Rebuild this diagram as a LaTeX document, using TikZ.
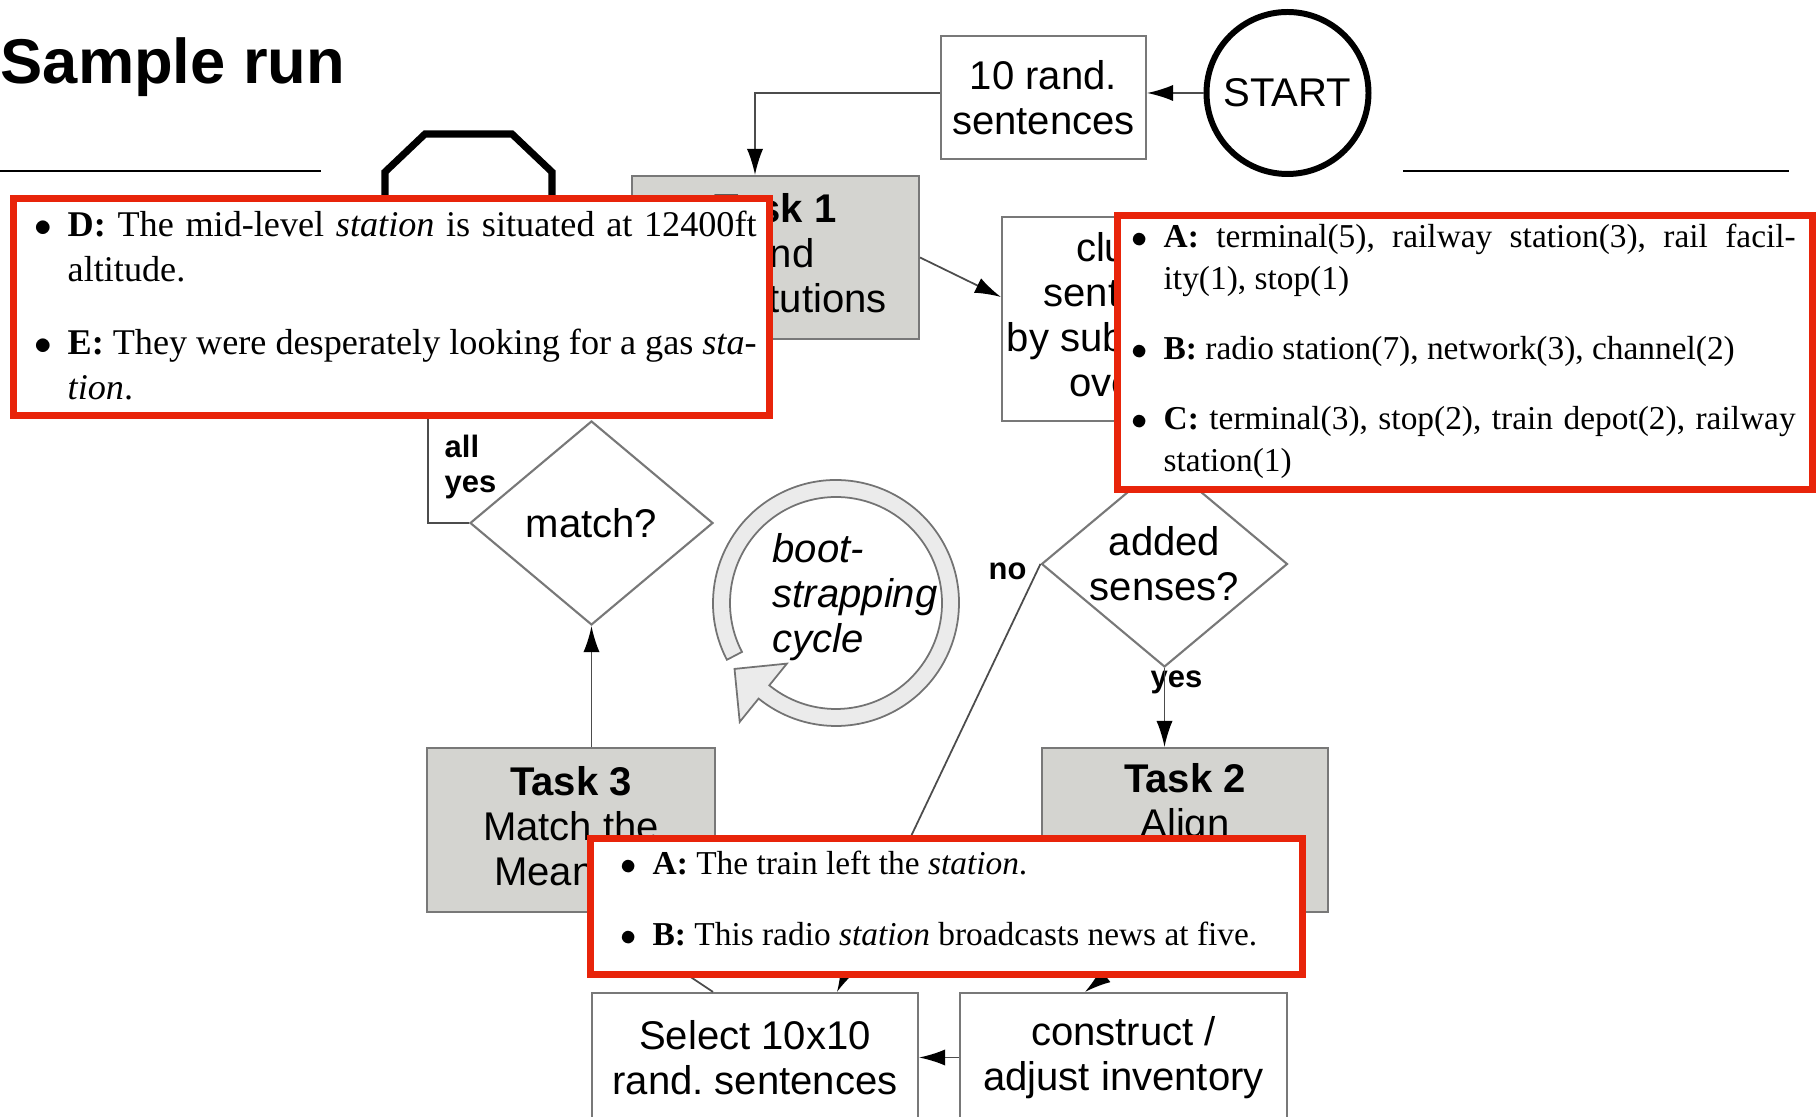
\documentclass[tikz,border=0pt]{standalone}
\usepackage{fontspec}
\setmainfont{Liberation Sans}
\newfontfamily\tms{Liberation Serif}
\usetikzlibrary{arrows.meta,shapes.geometric}
\frenchspacing
\definecolor{hlred}{RGB}{232,36,10}
\definecolor{taskgray}{RGB}{212,212,208}
\definecolor{edgegray}{RGB}{120,120,120}
\definecolor{ringgray}{RGB}{235,235,235}
\newcommand{\flowfont}{\fontsize{11.4pt}{12.8pt}\selectfont}
\newcommand{\bul}{\llap{$\bullet$\hspace{0.16cm}}}
\tikzset{
  box/.style={draw=edgegray, line width=0.6pt, fill=white, align=center, font=\flowfont, inner sep=0pt},
  task/.style={box, fill=taskgray},
  ask/.style={box, diamond, aspect=1.2},
  lbl/.style={font=\fontsize{8.8pt}{10.2pt}\selectfont\bfseries, anchor=base west, align=left, inner sep=0pt},
  conn/.style={draw=black!70, line width=0.5pt},
  callout/.style={draw=hlred, line width=2.1pt, fill=white},
  itemD/.style={anchor=base west, inner sep=0pt, text width=6.89cm, align=justify, font=\tms\fontsize{10.3pt}{12.8pt}\selectfont},
  itemA/.style={itemD, text width=6.32cm, font=\tms\fontsize{9.5pt}{11.8pt}\selectfont}
}
\begin{document}
\begin{tikzpicture}[>={Latex[length=7.4pt,width=4.6pt,color=black]}]
    \useasboundingbox (0,0) rectangle (18.18,11.17);
    \clip (0,0) rectangle (18.18,11.17);

    \node[anchor=base west, inner sep=0pt, font=\fontsize{18pt}{21pt}\selectfont\bfseries] (title) at (0,10.335) {Sample run};
    \draw[line width=0.8pt] (0,9.46) -- (3.21,9.46);
    \draw[line width=0.8pt] (14.03,9.46) -- (17.89,9.46);

    % stop sign, mostly under the callout
    \draw[line width=2pt] (4.25,9.83) -- (5.12,9.83) -- (5.52,9.45) -- (5.52,8.58) -- (5.12,8.18)
        -- (4.25,8.18) -- (3.85,8.58) -- (3.85,9.45) -- cycle;
    \coordinate (stop) at (4.28,8.18);

    \node[box, circle, draw=black, line width=1.7pt, minimum size=1.62cm] (start) at (12.875,10.24) {START};
    \node[box, minimum width=2.05cm, minimum height=1.23cm] (rnd) at (10.435,10.195) {10 rand.\\sentences};
    \node[task, minimum width=2.87cm, minimum height=1.63cm] (t1) at (7.755,8.595) {\textbf{Task 1}\\Find\\substitutions\vphantom{g}};
    \node[box, minimum width=2.66cm, minimum height=2.04cm] (clust) at (11.35,7.98) {cluster\\sentences\\by substitution\\overlap};
    \node[ask, minimum width=2.46cm, minimum height=2.06cm] (added) at (11.645,5.53) {added\\senses?};
    \node[ask, minimum width=2.43cm, minimum height=2.04cm] (match) at (5.915,5.94) {match?};
    \node[task, minimum width=2.86cm, minimum height=1.64cm] (t2) at (11.85,2.87) {\textbf{Task 2}\\Align\\\strut};
    \node[task, minimum width=2.88cm, minimum height=1.64cm] (t3) at (5.71,2.87) {\textbf{Task 3}\\Match the\\Meaning};
    \node[box, minimum width=3.26cm, minimum height=1.29cm] (sel) at (7.55,0.595) {Select 10x10\\rand. sentences};
    \node[box, minimum width=3.27cm, minimum height=1.29cm] (cons) at (11.235,0.595) {construct /\\adjust inventory};

    \node[lbl] (allyes) at (4.44,6.24) {all\\yes};
    \node[lbl] (no) at (9.88,5.37) {no};
    \node[lbl] (yes) at (11.50,4.29) {yes};

    \draw[conn,->] (start.west) -- (start.west -| rnd.east);
    \draw[conn,->] (rnd.west |- start.west) -| ([xshift=-0.205cm]t1.north);
    \draw[conn,->] (t1.east) -- ([yshift=0.22cm]clust.west);
    \draw[conn,->] (added.south) -- (added.south |- t2.north);
    \draw[conn,->] (added.west) -- ([xshift=0.82cm]sel.north);
    \draw[conn,->] (t2.south) -- ([xshift=-0.385cm]cons.north);
    \draw[conn,->] (cons.west) -- (sel.east);
    \draw[conn,->] ([xshift=-0.42cm]sel.north) -- ([xshift=0.24cm]t3.south);
    \draw[conn,->] (match.south |- t3.north) -- (match.south);
    \draw[conn,->] (match.west) -| (stop);

    % bootstrapping cycle
    \begin{scope}[shift={(8.36,5.14)}]
        \draw[draw=black!55, fill=ringgray, line width=0.5pt] (207.5:1.23) arc[start angle=207.5, end angle=-129, radius=1.23]
            -- (-129:1.53) -- (-147:1.21) -- (-129:0.78) -- (-129:1.06)
            arc[start angle=-129, end angle=207.5, radius=1.06] -- cycle;
    \end{scope}
    \node[font=\flowfont\itshape, align=left, anchor=west, inner sep=0pt] (cyc) at (7.72,5.20) {boot-\\strapping\\cycle};

    % example sentences and sense lists
    \draw[callout] (0.1375,9.1825) rectangle (7.6925,7.0175);
    \node[itemD] (itD) at (0.67,8.80) {\bul\textbf{D:} The mid-level \textit{station} is situated at 12400ft\linebreak altitude.};
    \node[itemD] (itE) at (0.67,7.62) {\bul\textbf{E:} They were desperately looking for a gas \textit{sta-}\linebreak\textit{tion}.};

    \draw[callout] (11.1775,9.0125) rectangle (18.1225,6.2775);
    \node[itemA] (senA) at (11.63,8.69) {\bul\textbf{A:} terminal(5), railway station(3), rail facil-\linebreak ity(1), stop(1)};
    \node[itemA] (senB) at (11.63,7.57) {\bul\textbf{B:} radio station(7), network(3), channel(2)};
    \node[itemA] (senC) at (11.63,6.87) {\bul\textbf{C:} terminal(3), stop(2), train depot(2), railway\linebreak station(1)};

    \draw[callout] (5.9075,2.7825) rectangle (13.0225,1.4275);
    \node[itemA] (exA) at (6.52,2.42) {\bul\textbf{A:} The train left the \textit{station}.};
    \node[itemA] (exB) at (6.52,1.71) {\bul\textbf{B:} This radio \textit{station} broadcasts news at five.};
\end{tikzpicture}
\end{document}
